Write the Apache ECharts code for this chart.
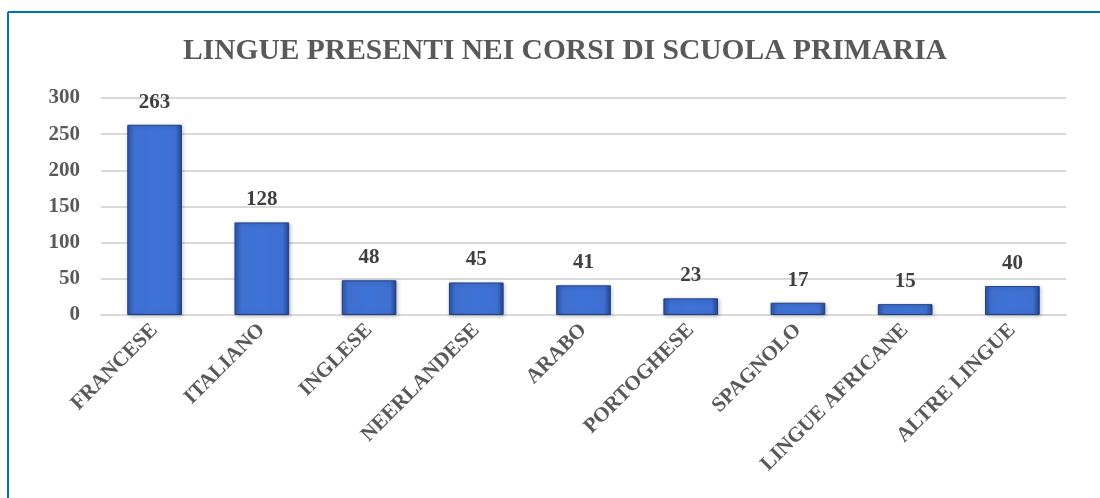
<!DOCTYPE html>
<html>
<head>
<meta charset="utf-8">
<script src="https://cdn.jsdelivr.net/npm/echarts@6/dist/echarts.min.js"></script>
<style>
  html, body { margin: 0; padding: 0; background: #fff; }
  #chart { width: 1100px; height: 498px; }
</style>
</head>
<body>
<div id="chart"></div>
<script>
const chartTitle = 'LINGUE PRESENTI NEI CORSI DI SCUOLA PRIMARIA'
const categories = ['FRANCESE', 'ITALIANO', 'INGLESE', 'NEERLANDESE', 'ARABO', 'PORTOGHESE', 'SPAGNOLO', 'LINGUE AFRICANE', 'ALTRE LINGUE']
const counts = [263, 128, 48, 45, 41, 23, 17, 15, 40]

const serif = '"Liberation Serif", "DejaVu Serif", serif'
const chart = echarts.init(document.getElementById('chart'))

// shaded blue like the bevelled Excel bars
const barFill = new echarts.graphic.LinearGradient(0, 0, 1, 0, [
  { offset: 0, color: '#2b55a8' },
  { offset: 0.12, color: '#3f6fd0' },
  { offset: 0.5, color: '#3e72d6' },
  { offset: 0.88, color: '#3f6fd0' },
  { offset: 1, color: '#23468d' }
])

chart.setOption({
  animation: false,
  title: {
    text: chartTitle,
    left: 560,
    textAlign: 'center',
    top: 31,
    textStyle: { fontFamily: serif, fontWeight: 'bold', fontSize: 29.5, color: '#595959' }
  },
  graphic: [
    { type: 'line', shape: { x1: 8, y1: 12, x2: 1100, y2: 12 }, style: { stroke: '#0070c0', lineWidth: 2 } },
    { type: 'line', shape: { x1: 8, y1: 12, x2: 8, y2: 498 }, style: { stroke: '#0070c0', lineWidth: 2 } }
  ],
  grid: { left: 101, right: 34, top: 98, bottom: 183, containLabel: false },
  xAxis: {
    type: 'category',
    data: categories,
    axisLine: { lineStyle: { color: '#d9d9d9', width: 2 } },
    axisTick: { show: false },
    axisLabel: {
      rotate: 45,
      interval: 0,
      margin: 12,
      fontFamily: serif,
      fontWeight: 'bold',
      fontSize: 21,
      color: '#595959'
    }
  },
  yAxis: {
    type: 'value',
    min: 0,
    max: 300,
    interval: 50,
    axisLine: { show: false },
    axisTick: { show: false },
    splitLine: { lineStyle: { color: '#d9d9d9', width: 2 } },
    axisLabel: {
      margin: 21,
      fontFamily: serif,
      fontWeight: 'bold',
      fontSize: 21,
      color: '#595959'
    }
  },
  series: [{
    type: 'bar',
    data: counts,
    barWidth: '51%',
    itemStyle: {
      color: barFill,
      borderColor: '#1f3f80',
      borderWidth: 1,
      shadowColor: 'rgba(0,0,0,0.25)',
      shadowBlur: 4,
      shadowOffsetX: 1,
      shadowOffsetY: 1
    },
    label: {
      show: true,
      position: 'top',
      distance: 12,
      fontFamily: serif,
      fontWeight: 'bold',
      fontSize: 21,
      color: '#404040'
    }
  }]
})
</script>
</body>
</html>
